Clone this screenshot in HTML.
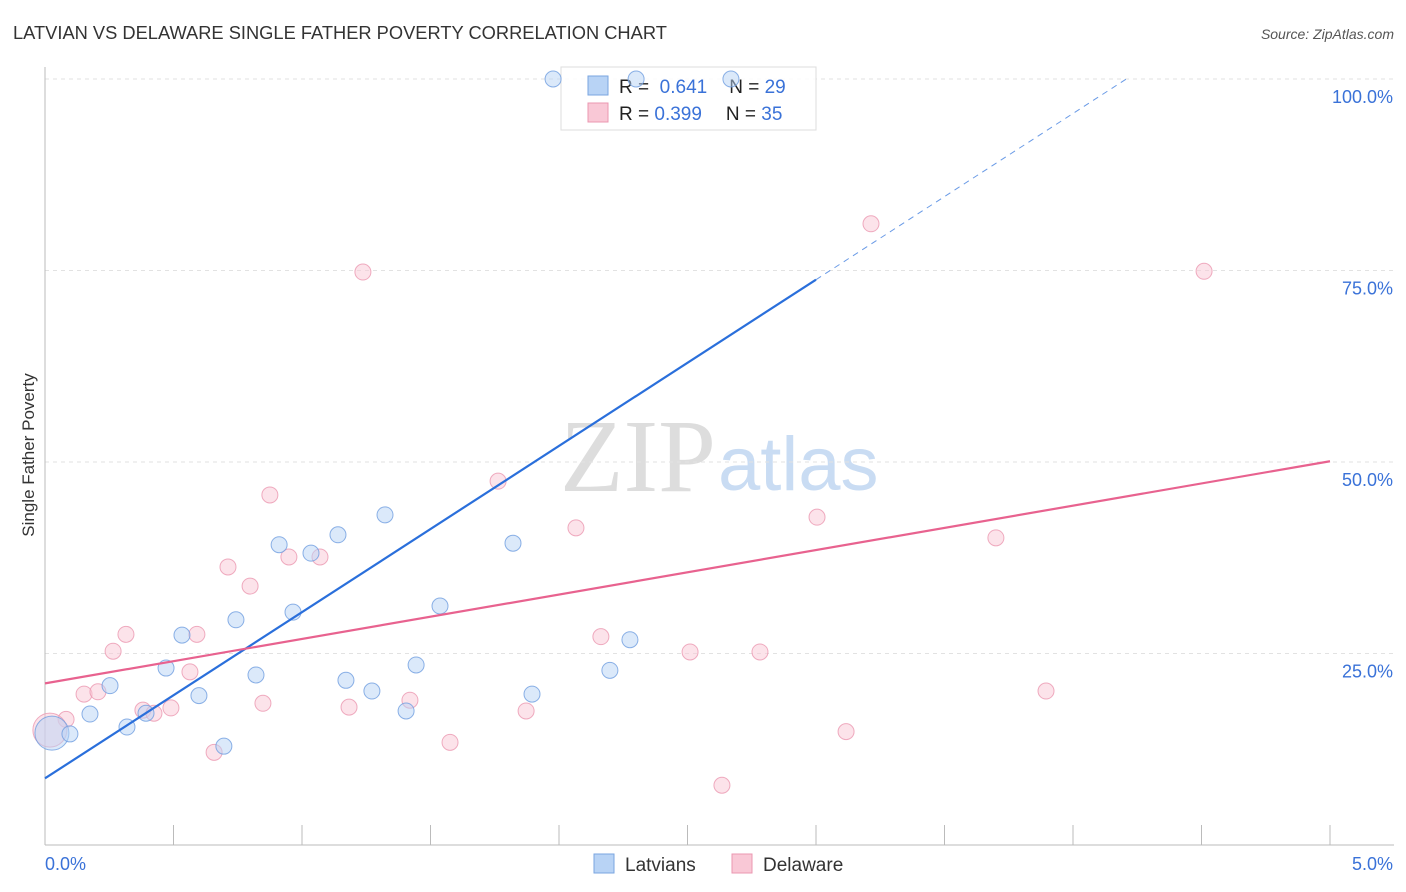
<!DOCTYPE html>
<html><head><meta charset="utf-8"><style>
body{margin:0;background:#fff;font-family:"Liberation Sans",sans-serif;}
svg{display:block}
</style></head><body>
<svg id="chart" width="1406" height="892">
<text x="13" y="39" font-size="18.3" fill="#333">LATVIAN VS DELAWARE SINGLE FATHER POVERTY CORRELATION CHART</text>
<text x="1394" y="39" font-size="14" fill="#555" font-style="italic" text-anchor="end">Source: ZipAtlas.com</text>
<text x="716" y="491" font-size="104" font-family="Liberation Serif,serif" fill="#ddd" text-anchor="end">ZIP</text>
<text x="718" y="490" font-size="76" fill="#c9dcf3">atlas</text>
<text transform="translate(34,455) rotate(-90)" font-size="17" fill="#333" text-anchor="middle">Single Father Poverty</text>
<g id="grid"></g>
<g>
<rect x="561" y="67" width="255" height="63" fill="#fff" fill-opacity="0.85" stroke="#ddd"/>
<rect x="588" y="76" width="20" height="19" fill="#b8d3f5" stroke="#7aa6e0"/>
<rect x="588" y="103" width="20" height="19" fill="#f9c8d6" stroke="#eb97b0"/>
<text x="619" y="93" font-size="19" fill="#222">R = <tspan fill="#3a72d8">&#160;0.641</tspan><tspan dx="22">N = </tspan><tspan fill="#3a72d8">29</tspan></text>
<text x="619" y="120" font-size="19" fill="#222">R = <tspan fill="#3a72d8">0.399</tspan><tspan dx="24">N = </tspan><tspan fill="#3a72d8">35</tspan></text>
</g>
<g id="marks"></g>
<g>
<rect x="594" y="854" width="20" height="19" fill="#b8d3f5" stroke="#7aa6e0"/>
<text x="625" y="871" font-size="19" fill="#333">Latvians</text>
<rect x="732" y="854" width="20" height="19" fill="#f9c8d6" stroke="#eb97b0"/>
<text x="763" y="871" font-size="19" fill="#333">Delaware</text>
</g>
</svg>
<script>
const yTicks=[25,50,75,100];
const yTickLabels=["25.0%","50.0%","75.0%","100.0%"];
const xTickLabels=["0.0%","5.0%"];
const blueX=[1.977,2.300,2.669,0.027,0.097,0.175,0.253,0.319,0.393,0.471,0.533,0.599,0.696,0.743,0.821,0.911,0.965,1.035,1.140,1.171,1.272,1.323,1.405,1.444,1.537,1.821,1.895,2.198,2.276];
const blueY=[100,100,100,14.6,14.5,17.1,20.8,15.4,17.2,23.1,27.4,19.5,12.9,29.4,22.2,39.2,30.4,38.1,40.5,21.5,20.1,43.1,17.5,23.5,31.2,39.4,19.7,22.8,26.8];
const pinkX=[1.237,3.214,4.510,1.763,0.875,2.066,3.004,3.700,0.712,0.798,0.949,1.070,0.315,0.591,0.265,0.564,2.163,2.510,2.782,0.152,0.206,0.082,0.381,0.424,0.490,0.848,1.183,1.420,1.872,0.658,1.576,3.117,3.895,2.634,0.019];
const pinkY=[74.8,81.1,74.9,47.5,45.7,41.4,42.8,40.1,36.3,33.8,37.6,37.6,27.5,27.5,25.3,22.6,27.2,25.2,25.2,19.7,20.0,16.4,17.6,17.2,17.9,18.5,18.0,18.9,17.5,12.1,13.4,14.8,20.1,7.8,15.0];
const blueTrend=[8.7,21.7];
const pinkTrend=[21.1,5.8];
const X=v=>45+v*257, Y=v=>845-v*7.66;
const NS="http://www.w3.org/2000/svg";
function mk(t,a,p){const e=document.createElementNS(NS,t);for(const k in a)e.setAttribute(k,a[k]);p.appendChild(e);return e;}
const g=document.getElementById('grid'),m=document.getElementById('marks');
yTicks.forEach((t,i)=>{
 const l=mk('line',{x1:45,x2:1394,y1:Y(t),y2:Y(t),stroke:'#e2e2e2','stroke-dasharray':'4,4'},g);
 
 
 const tx=mk('text',{x:1393,y:Y(t)+24,'font-size':18,fill:'#3a72d8','text-anchor':'end'},g);tx.textContent=yTickLabels[i];
 
 
});
mk('line',{x1:45,x2:45,y1:67,y2:845,stroke:'#bbb'},g);
mk('line',{x1:45,x2:1394,y1:845,y2:845,stroke:'#bbb'},g);
for(let i=0;i<=10;i++){const t=mk('line',{x1:X(i*0.5),x2:X(i*0.5),y1:825,y2:845,stroke:'#bbb'},g);
 
 }
[[0,45,'start'],[5,1393,'end']].forEach((a,i)=>{const t=mk('text',{x:a[1],y:870,'font-size':18,fill:'#3a72d8','text-anchor':a[2]},g);t.textContent=xTickLabels[i];
 
 });
function pts(xs,ys,fill,stroke,name){xs.forEach((x,i)=>{const big=x<0.05&&ys[i]<20;
 const c=mk('circle',{cx:X(x),cy:Y(ys[i]),r:big?17:8,fill:fill,'fill-opacity':0.5,stroke:stroke,'stroke-width':1,'stroke-opacity':0.8},m);
 
 });}
pts(pinkX,pinkY,'#f9c8d6','#eb97b0','delaware-point');
pts(blueX,blueY,'#b8d3f5','#6f9ee0','latvians-point');
const bEnd=3.0;
const bl=mk('line',{x1:X(0),y1:Y(blueTrend[0]),x2:X(bEnd),y2:Y(blueTrend[0]+blueTrend[1]*bEnd),stroke:'#2a6fdb','stroke-width':2.2},m);


const bEnd2=(100-blueTrend[0])/blueTrend[1];
const bd=mk('line',{x1:X(bEnd),y1:Y(blueTrend[0]+blueTrend[1]*bEnd),x2:X(bEnd2),y2:Y(100),stroke:'#2a6fdb','stroke-width':1,'stroke-dasharray':'6,5','stroke-opacity':0.7},m);


const pl=mk('line',{x1:X(0),y1:Y(pinkTrend[0]),x2:X(5),y2:Y(pinkTrend[0]+pinkTrend[1]*5),stroke:'#e8628f','stroke-width':2.2},m);


</script>
</body></html>
